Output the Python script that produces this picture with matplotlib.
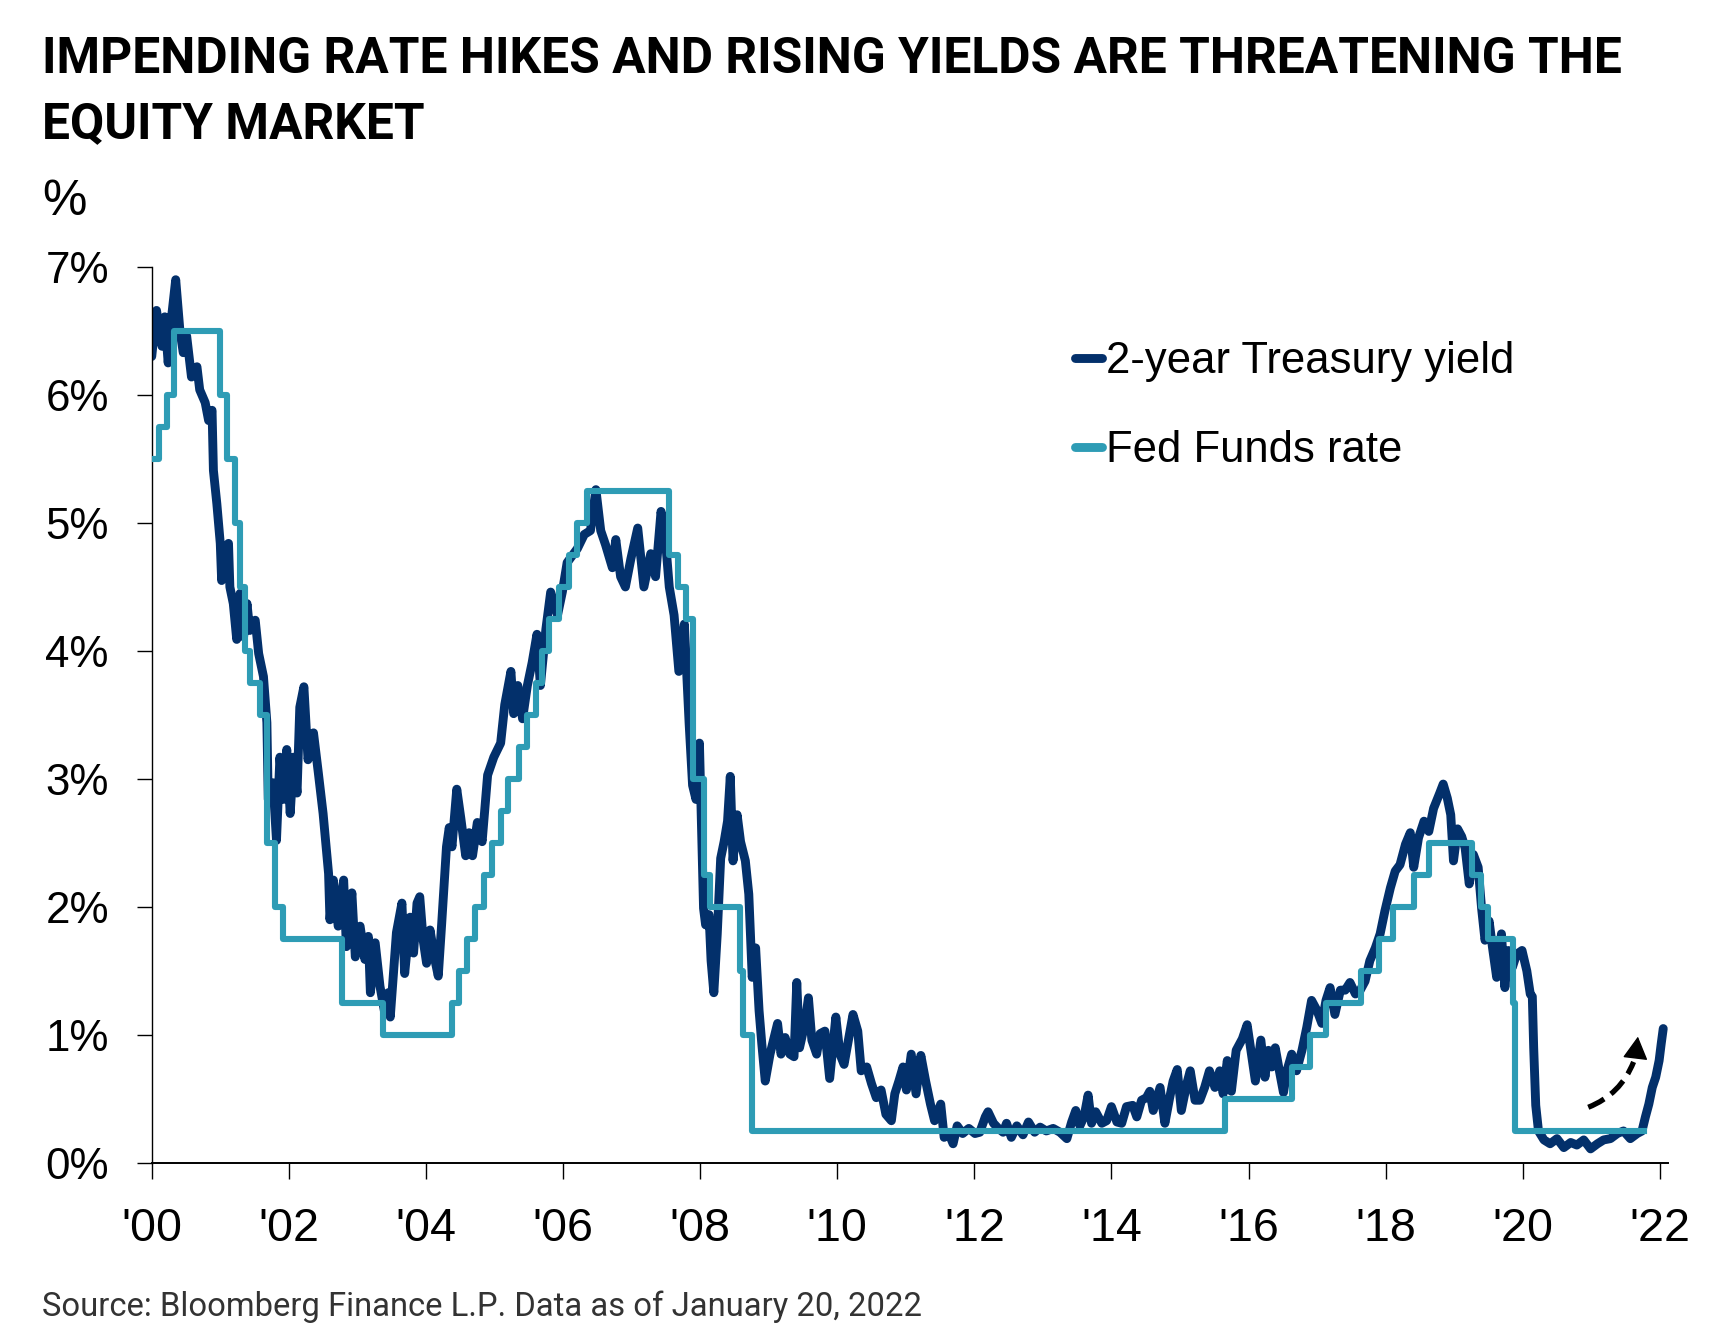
import matplotlib
matplotlib.use("Agg")
import matplotlib.pyplot as plt
from matplotlib.patches import FancyArrowPatch

# ---------------- data ----------------
treasury_year = [
    2000.00, 2000.07, 2000.15, 2000.19, 2000.24, 2000.29, 2000.35, 2000.41, 2000.46, 2000.51,
    2000.58, 2000.66, 2000.70, 2000.78, 2000.83, 2000.88, 2000.90, 2000.95, 2001.00, 2001.02,
    2001.07, 2001.12, 2001.14, 2001.19, 2001.24, 2001.29, 2001.34, 2001.39, 2001.43, 2001.51,
    2001.56, 2001.63, 2001.68, 2001.70, 2001.77, 2001.82, 2001.87, 2001.92, 2001.97, 2002.02,
    2002.07, 2002.12, 2002.16, 2002.22, 2002.28, 2002.36, 2002.43, 2002.50, 2002.58, 2002.60,
    2002.65, 2002.72, 2002.80, 2002.84, 2002.92, 2002.97, 2003.04, 2003.11, 2003.16, 2003.19,
    2003.26, 2003.33, 2003.40, 2003.45, 2003.48, 2003.57, 2003.65, 2003.69, 2003.77, 2003.82,
    2003.87, 2003.91, 2003.96, 2004.01, 2004.06, 2004.13, 2004.18, 2004.23, 2004.30, 2004.34,
    2004.38, 2004.45, 2004.51, 2004.58, 2004.63, 2004.68, 2004.75, 2004.82, 2004.90, 2004.99,
    2005.09, 2005.15, 2005.24, 2005.28, 2005.34, 2005.41, 2005.48, 2005.55, 2005.62, 2005.67,
    2005.75, 2005.82, 2005.92, 2005.99, 2006.06, 2006.21, 2006.31, 2006.40, 2006.48, 2006.55,
    2006.62, 2006.72, 2006.77, 2006.84, 2006.91, 2006.99, 2007.09, 2007.18, 2007.28, 2007.35,
    2007.43, 2007.50, 2007.55, 2007.62, 2007.69, 2007.77, 2007.84, 2007.89, 2007.94, 2007.99,
    2008.05, 2008.08, 2008.13, 2008.16, 2008.20, 2008.25, 2008.30, 2008.35, 2008.40, 2008.44,
    2008.48, 2008.54, 2008.59, 2008.66, 2008.71, 2008.76, 2008.81, 2008.86, 2008.90, 2008.95,
    2009.02, 2009.07, 2009.13, 2009.18, 2009.24, 2009.31, 2009.37, 2009.41, 2009.45, 2009.53,
    2009.58, 2009.63, 2009.70, 2009.75, 2009.82, 2009.89, 2009.98, 2010.04, 2010.10, 2010.17,
    2010.23, 2010.30, 2010.35, 2010.43, 2010.50, 2010.57, 2010.64, 2010.71, 2010.79, 2010.84,
    2010.90, 2010.96, 2011.01, 2011.08, 2011.15, 2011.22, 2011.29, 2011.36, 2011.42, 2011.51,
    2011.56, 2011.63, 2011.69, 2011.75, 2011.83, 2011.92, 2012.01, 2012.08, 2012.16, 2012.20,
    2012.28, 2012.35, 2012.42, 2012.47, 2012.54, 2012.62, 2012.71, 2012.79, 2012.88, 2012.96,
    2013.05, 2013.15, 2013.25, 2013.35, 2013.42, 2013.48, 2013.54, 2013.60, 2013.66, 2013.71,
    2013.77, 2013.86, 2013.93, 2014.00, 2014.08, 2014.15, 2014.22, 2014.31, 2014.37, 2014.44,
    2014.51, 2014.56, 2014.61, 2014.71, 2014.78, 2014.85, 2014.90, 2014.96, 2015.02, 2015.10,
    2015.15, 2015.22, 2015.29, 2015.36, 2015.43, 2015.51, 2015.58, 2015.63, 2015.69, 2015.75,
    2015.82, 2015.91, 2015.98, 2016.04, 2016.10, 2016.18, 2016.24, 2016.29, 2016.34, 2016.39,
    2016.45, 2016.51, 2016.56, 2016.63, 2016.70, 2016.78, 2016.85, 2016.92, 2017.00, 2017.07,
    2017.13, 2017.19, 2017.26, 2017.34, 2017.41, 2017.48, 2017.56, 2017.63, 2017.70, 2017.77,
    2017.85, 2017.92, 2017.99, 2018.07, 2018.14, 2018.21, 2018.29, 2018.36, 2018.41, 2018.48,
    2018.56, 2018.63, 2018.70, 2018.79, 2018.84, 2018.90, 2018.95, 2018.99, 2019.05, 2019.11,
    2019.16, 2019.22, 2019.28, 2019.35, 2019.40, 2019.45, 2019.51, 2019.56, 2019.62, 2019.69,
    2019.74, 2019.79, 2019.85, 2019.91, 2019.99, 2020.06, 2020.11, 2020.14, 2020.16, 2020.19,
    2020.23, 2020.31, 2020.40, 2020.50, 2020.60, 2020.70, 2020.79, 2020.89, 2020.99, 2021.09,
    2021.18, 2021.28, 2021.38, 2021.47, 2021.57, 2021.67, 2021.74, 2021.79, 2021.84, 2021.89,
    2021.94, 2021.99, 2022.02, 2022.05,
]
treasury_yield = [
    6.30, 6.66, 6.38, 6.61, 6.25, 6.61, 6.90, 6.51, 6.33, 6.46,
    6.14, 6.22, 6.04, 5.94, 5.80, 5.88, 5.41, 5.15, 4.84, 4.55,
    4.81, 4.84, 4.50, 4.37, 4.09, 4.45, 4.11, 4.37, 4.16, 4.24,
    3.98, 3.80, 3.44, 2.84, 2.97, 2.52, 3.17, 2.84, 3.23, 2.73,
    3.17, 2.89, 3.56, 3.72, 3.15, 3.36, 3.05, 2.73, 2.26, 1.90,
    2.21, 1.85, 2.21, 1.69, 2.11, 1.61, 1.85, 1.59, 1.77, 1.33,
    1.72, 1.38, 1.17, 1.33, 1.14, 1.80, 2.03, 1.48, 1.92, 1.64,
    2.03, 2.08, 1.74, 1.56, 1.82, 1.59, 1.46, 1.87, 2.47, 2.62,
    2.47, 2.92, 2.69, 2.40, 2.58, 2.40, 2.66, 2.51, 3.03, 3.17,
    3.28, 3.58, 3.84, 3.51, 3.73, 3.47, 3.73, 3.91, 4.13, 3.73,
    4.17, 4.46, 4.28, 4.46, 4.69, 4.80, 4.91, 4.94, 5.26, 4.94,
    4.83, 4.65, 4.87, 4.58, 4.50, 4.72, 4.96, 4.50, 4.76, 4.58,
    5.09, 4.83, 4.50, 4.28, 3.84, 4.21, 3.43, 2.95, 2.84, 3.28,
    1.99, 1.86, 1.94, 1.58, 1.33, 1.79, 2.38, 2.51, 2.67, 3.02,
    2.36, 2.72, 2.51, 2.36, 2.10, 1.45, 1.68, 1.19, 0.93, 0.64,
    0.85, 0.96, 1.09, 0.85, 0.98, 0.85, 0.83, 1.41, 0.90, 1.09,
    1.29, 0.96, 0.85, 1.01, 1.03, 0.66, 1.14, 0.85, 0.77, 0.98,
    1.16, 1.03, 0.72, 0.75, 0.62, 0.51, 0.57, 0.38, 0.33, 0.54,
    0.64, 0.75, 0.57, 0.85, 0.54, 0.84, 0.64, 0.46, 0.33, 0.46,
    0.20, 0.23, 0.15, 0.29, 0.23, 0.27, 0.23, 0.24, 0.36, 0.40,
    0.31, 0.27, 0.24, 0.31, 0.20, 0.29, 0.22, 0.32, 0.24, 0.28,
    0.25, 0.27, 0.24, 0.19, 0.32, 0.41, 0.29, 0.36, 0.53, 0.31,
    0.40, 0.31, 0.33, 0.44, 0.32, 0.31, 0.44, 0.45, 0.36, 0.49,
    0.51, 0.56, 0.41, 0.59, 0.31, 0.51, 0.64, 0.73, 0.41, 0.62,
    0.72, 0.49, 0.49, 0.59, 0.72, 0.59, 0.72, 0.54, 0.80, 0.56,
    0.88, 0.97, 1.08, 0.86, 0.64, 0.96, 0.67, 0.88, 0.75, 0.90,
    0.72, 0.55, 0.72, 0.85, 0.72, 0.88, 1.06, 1.27, 1.19, 1.09,
    1.27, 1.37, 1.16, 1.35, 1.35, 1.41, 1.32, 1.35, 1.42, 1.58,
    1.68, 1.79, 1.97, 2.15, 2.28, 2.33, 2.49, 2.58, 2.31, 2.54,
    2.67, 2.59, 2.77, 2.89, 2.96, 2.85, 2.72, 2.36, 2.61, 2.55,
    2.46, 2.18, 2.41, 2.31, 1.99, 1.74, 1.89, 1.68, 1.45, 1.79,
    1.37, 1.66, 1.53, 1.63, 1.66, 1.50, 1.32, 1.30, 0.90, 0.45,
    0.25, 0.18, 0.15, 0.19, 0.12, 0.16, 0.14, 0.18, 0.11, 0.15,
    0.18, 0.19, 0.23, 0.25, 0.19, 0.23, 0.25, 0.36, 0.46, 0.59,
    0.67, 0.80, 0.93, 1.05,
]

fed_year = [
    2000.00, 2000.10, 2000.22, 2000.33, 2001.00, 2001.10, 2001.22, 2001.29, 2001.36, 2001.43,
    2001.58, 2001.68, 2001.80, 2001.91, 2002.77, 2003.38, 2004.38, 2004.48, 2004.60, 2004.72,
    2004.85, 2004.97, 2005.09, 2005.20, 2005.36, 2005.48, 2005.60, 2005.70, 2005.80, 2005.94,
    2006.09, 2006.21, 2006.35, 2007.55, 2007.68, 2007.79, 2007.89, 2008.05, 2008.15, 2008.58,
    2008.63, 2008.75, 2015.65, 2016.63, 2016.89, 2017.13, 2017.64, 2017.90, 2018.11, 2018.41,
    2018.64, 2019.26, 2019.39, 2019.50, 2019.86, 2019.89, 2021.77,
]
fed_rate = [
    5.50, 5.75, 6.00, 6.50, 6.00, 5.50, 5.00, 4.50, 4.00, 3.75,
    3.50, 2.50, 2.00, 1.75, 1.25, 1.00, 1.25, 1.50, 1.75, 2.00,
    2.25, 2.50, 2.75, 3.00, 3.25, 3.50, 3.75, 4.00, 4.25, 4.50,
    4.75, 5.00, 5.25, 4.75, 4.50, 4.25, 3.00, 2.25, 2.00, 1.50,
    1.00, 0.25, 0.50, 0.75, 1.00, 1.25, 1.50, 1.75, 2.00, 2.25,
    2.50, 2.25, 2.00, 1.75, 1.25, 0.25, 0.25,
]

x_ticks = [2000, 2002, 2004, 2006, 2008, 2010, 2012, 2014, 2016, 2018, 2020, 2022]
x_tick_labels = ["'00", "'02", "'04", "'06", "'08", "'10", "'12", "'14", "'16", "'18", "'20", "'22"]
y_ticks = [0, 1, 2, 3, 4, 5, 6, 7]
y_tick_labels = ["0%", "1%", "2%", "3%", "4%", "5%", "6%", "7%"]

series_labels = ["2-year Treasury yield", "Fed Funds rate"]
title_lines = ["IMPENDING RATE HIKES AND RISING YIELDS ARE THREATENING THE", "EQUITY MARKET"]
unit_label = "%"
source_text = "Source: Bloomberg Finance L.P. Data as of January 20, 2022"

# arrow annotation (start, end of dashed body, tip) in data units
arrow_start = (2020.88, 0.42)
arrow_body_end = (2021.645, 0.83)
arrow_tip = (2021.69, 1.03)

assert len(treasury_year) == len(treasury_yield)
assert len(fed_year) == len(fed_rate)

# ---------------- style ----------------
NAVY = "#03306B"
TEAL = "#2E9CB5"

plt.rcParams["font.family"] = ["Liberation Sans", "DejaVu Sans"]
TITLE_FONT = ["Roboto", "DejaVu Sans"]

fig = plt.figure(figsize=(8.64, 6.72), dpi=200)
ax = fig.add_axes([0.0878, 0.1347, 0.8775, 0.6667])

ax.plot(treasury_year, treasury_yield, color=NAVY, lw=3.2, solid_joinstyle="round",
        solid_capstyle="round", label=series_labels[0], zorder=2)
ax.step(fed_year, fed_rate, where="post", color=TEAL, lw=2.2, label=series_labels[1], zorder=3)

ax.set_xlim(2000, 2022.12)
ax.set_ylim(0, 7)

ax.set_xticks(x_ticks)
ax.set_xticklabels(x_tick_labels)
ax.set_yticks(y_ticks)
ax.set_yticklabels(y_tick_labels)

for s in ["top", "right"]:
    ax.spines[s].set_visible(False)
ax.spines["left"].set_linewidth(0.5)
ax.spines["bottom"].set_linewidth(0.7)
ax.tick_params(axis="y", direction="out", length=5.4, width=0.5, pad=10, labelsize=15.8, colors="black")
ax.tick_params(axis="x", direction="out", length=5.8, width=0.5, pad=10, labelsize=16.8, colors="black")

# curved dashed arrow
body = FancyArrowPatch(arrow_start, arrow_body_end, connectionstyle="arc3,rad=0.25",
                       arrowstyle="-", color="black", lw=1.9, linestyle=(0, (3.4, 1.6)),
                       capstyle="butt", zorder=4)
ax.add_patch(body)
head = FancyArrowPatch(arrow_body_end, arrow_tip, arrowstyle="-|>,head_length=0.36,head_width=0.2",
                       mutation_scale=20, color="black", lw=0.5, zorder=4)
ax.add_patch(head)

leg = ax.legend(loc="upper left", bbox_to_anchor=(0.609, 0.917), frameon=False,
                fontsize=15.7, handlelength=0.62, handletextpad=0.08, labelspacing=1.1,
                borderpad=0, borderaxespad=0)
for h in leg.get_lines():
    h.set_linewidth(3.2)
    h.set_solid_capstyle("round")

fig.text(0.0243, 0.9457, title_lines[0], fontsize=17.9, fontweight="bold", family=TITLE_FONT, va="baseline")
fig.text(0.0243, 0.8973, title_lines[1], fontsize=17.9, fontweight="bold", family=TITLE_FONT, va="baseline")
fig.text(0.0243, 0.840, unit_label, fontsize=18, va="baseline")
fig.text(0.0243, 0.0208, source_text, fontsize=11.8, family=TITLE_FONT, fontweight="normal",
         color="#333333", va="baseline")

fig.savefig("out.png", dpi=200)
